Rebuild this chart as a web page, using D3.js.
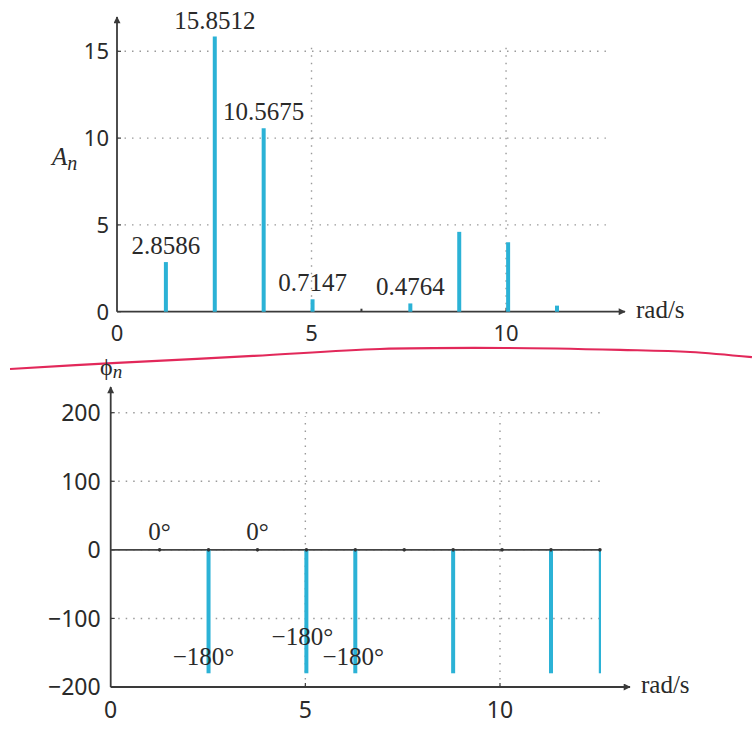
<!DOCTYPE html>
<html>
<head>
<meta charset="utf-8">
<script src="https://cdn.jsdelivr.net/npm/d3@7"></script>
<style>
  body { margin: 0; background: #fff; }
  svg { display: block; }
  .tick-label { font-family: "Noto Sans", sans-serif; fill: #2a2a2a; }
  .serif { font-family: "Liberation Serif", "Times New Roman", serif; fill: #2a2a2a; }
</style>
</head>
<body>
<svg id="chart" width="752" height="730"></svg>
<script>
// harmonic frequencies (rad/s)
const freqs = [1.2566, 2.5133, 3.7699, 5.0265, 6.2832, 7.5398, 8.7965, 10.0531, 11.3097, 12.5664];
// amplitude spectrum A_n (n = 1..9)
const ampValues = [2.8586, 15.8512, 10.5675, 0.7147, 0, 0.4764, 4.6, 4.0, 0.35];
const ampLabels = ["2.8586", "15.8512", "10.5675", "0.7147", "", "0.4764", "", "", ""];
// phase spectrum phi_n (degrees, n = 1..10)
const phaseValues = [0, -180, 0, -180, -180, 0, -180, 0, -180, -180];
const phaseLabels = ["0°", "−180°", "0°", "−180°", "−180°", "", "", "", "", ""];
const ampTicks = [0, 5, 10, 15];
const phaseTicks = [-200, -100, 0, 100, 200];
const xTicks = [0, 5, 10];
// hand-drawn red separator, in amplitude-chart units
const separator = [[-2.75, -3.3], [0, -2.95], [3.5, -2.55], [6.76, -2.15], [9.97, -2.09], [12.93, -2.2], [14.73, -2.32], [16.32, -2.62]];

const svg = d3.select("#chart");
const stemColor = "#2bb2d6";
const axisColor = "#3a3a3a";

const defs = svg.append("defs");
defs.append("marker")
  .attr("id", "arrow")
  .attr("viewBox", "0 0 10 10")
  .attr("refX", 9).attr("refY", 5)
  .attr("markerWidth", 11).attr("markerHeight", 7)
  .attr("markerUnits", "userSpaceOnUse")
  .attr("orient", "auto")
  .append("path")
  .attr("d", "M0,0 L10,5 L0,10 Z")
  .attr("fill", axisColor);

const fmtMinus = d => d < 0 ? "\u2212" + Math.abs(d) : String(d);

function drawPanel(opts) {
  const { x, y, yTicks, gridTop, xEnd, yEnd, tickFont, yLabelGap, xLabelY } = opts;
  const g = svg.append("g");
  const [x0] = x.range();
  const yBottom = y(y.domain()[0]);

  // dotted grid
  g.selectAll(".hgrid")
    .data(yTicks.filter(t => t > y.domain()[0]))
    .enter().append("line")
    .attr("x1", x0).attr("x2", x(x.domain()[1]))
    .attr("y1", d => y(d)).attr("y2", d => y(d))
    .attr("stroke", "#9a9a9a").attr("stroke-width", 1.4)
    .attr("stroke-dasharray", "1.5,6");
  g.selectAll(".vgrid")
    .data(xTicks.filter(t => t > 0))
    .enter().append("line")
    .attr("x1", d => x(d)).attr("x2", d => x(d))
    .attr("y1", yBottom).attr("y2", y(gridTop))
    .attr("stroke", "#9a9a9a").attr("stroke-width", 1.4)
    .attr("stroke-dasharray", "1.5,6");

  // axes with arrows
  g.append("line")
    .attr("x1", x0).attr("x2", xEnd)
    .attr("y1", yBottom).attr("y2", yBottom)
    .attr("stroke", axisColor).attr("stroke-width", 1.8)
    .attr("marker-end", "url(#arrow)");
  g.append("line")
    .attr("x1", x0).attr("x2", x0)
    .attr("y1", yBottom).attr("y2", yEnd)
    .attr("stroke", axisColor).attr("stroke-width", 1.8)
    .attr("marker-end", "url(#arrow)");

  // small inward ticks
  g.selectAll(".xt").data(xTicks.filter(t => t > 0)).enter().append("line")
    .attr("x1", d => x(d)).attr("x2", d => x(d))
    .attr("y1", yBottom).attr("y2", yBottom - 4)
    .attr("stroke", axisColor).attr("stroke-width", 1.2);
  g.selectAll(".yt").data(yTicks).enter().append("line")
    .attr("x1", x0).attr("x2", x0 + 4)
    .attr("y1", d => y(d)).attr("y2", d => y(d))
    .attr("stroke", axisColor).attr("stroke-width", 1.2);

  // tick labels
  g.selectAll(".ylab").data(yTicks).enter().append("text")
    .attr("class", "tick-label")
    .attr("x", x0 - yLabelGap).attr("y", d => y(d))
    .attr("dy", "0.36em")
    .attr("text-anchor", "end")
    .style("font-size", tickFont + "px")
    .text(fmtMinus);
  g.selectAll(".xlab").data(xTicks).enter().append("text")
    .attr("class", "tick-label")
    .attr("x", d => x(d)).attr("y", xLabelY)
    .attr("text-anchor", "middle")
    .style("font-size", tickFont + "px")
    .text(d => d);

  // unit label
  g.append("text")
    .attr("class", "serif")
    .attr("x", xEnd + 11).attr("y", yBottom + 6)
    .style("font-size", "25px")
    .text("rad/s");
  return g;
}

// ---------- amplitude spectrum ----------
const xA = d3.scaleLinear().domain([0, 4 * Math.PI]).range([117, 605.9]);
const yA = d3.scaleLinear().domain([0, 15]).range([311.7, 51.3]);
const gA = drawPanel({ x: xA, y: yA, yTicks: ampTicks, gridTop: 15.5, xEnd: 625, yEnd: 17,
  tickFont: 22, yLabelGap: 8, xLabelY: 341 });

const ampData = ampValues.map((v, i) => ({ f: freqs[i], v, label: ampLabels[i] }));
gA.selectAll(".stem").data(ampData.filter(d => d.v > 0)).enter().append("line")
  .attr("x1", d => xA(d.f)).attr("x2", d => xA(d.f))
  .attr("y1", yA(0)).attr("y2", d => yA(d.v))
  .attr("stroke", stemColor).attr("stroke-width", 4);
gA.selectAll(".base").data(ampData.filter(d => d.v === 0)).enter().append("line")
  .attr("x1", d => xA(d.f)).attr("x2", d => xA(d.f))
  .attr("y1", yA(0)).attr("y2", yA(0) - 3)
  .attr("stroke", axisColor).attr("stroke-width", 2);
gA.selectAll(".vlab").data(ampData.filter(d => d.label)).enter().append("text")
  .attr("class", "serif")
  .attr("x", d => xA(d.f)).attr("y", d => yA(d.v) - 8)
  .attr("text-anchor", "middle")
  .style("font-size", "25px")
  .text(d => d.label);

const aTitle = gA.append("text").attr("class", "serif")
  .attr("x", 52).attr("y", 165)
  .style("font-size", "25px").style("font-style", "italic");
aTitle.append("tspan").text("A");
aTitle.append("tspan").attr("dy", 5).style("font-size", "20px").text("n");

// ---------- red separator ----------
svg.append("path")
  .datum(separator)
  .attr("d", d3.line().x(d => xA(d[0])).y(d => yA(d[1])).curve(d3.curveCatmullRom))
  .attr("fill", "none")
  .attr("stroke", "#e2285a")
  .attr("stroke-width", 2.2);

// ---------- phase spectrum ----------
const xP = d3.scaleLinear().domain([0, 4 * Math.PI]).range([110.7, 599.9]);
const yP = d3.scaleLinear().domain([-200, 200]).range([687, 412.7]);
const gP = drawPanel({ x: xP, y: yP, yTicks: phaseTicks, gridTop: 195, xEnd: 630, yEnd: 387,
  tickFont: 23, yLabelGap: 10, xLabelY: 718 });

// zero line of the stem plot
gP.append("line")
  .attr("x1", xP(0)).attr("x2", xP(freqs[freqs.length - 1]))
  .attr("y1", yP(0)).attr("y2", yP(0))
  .attr("stroke", "#444").attr("stroke-width", 1.8);

const phaseData = phaseValues.map((v, i) => ({ f: freqs[i], v, label: phaseLabels[i], i }));
gP.selectAll(".stem").data(phaseData.filter(d => d.v !== 0)).enter().append("line")
  .attr("x1", d => xP(d.f)).attr("x2", d => xP(d.f))
  .attr("y1", yP(0)).attr("y2", d => yP(d.v))
  .attr("stroke", stemColor)
  .attr("stroke-width", d => d.i === phaseValues.length - 1 ? 2.2 : 4);
gP.selectAll(".dot").data(phaseData).enter().append("circle")
  .attr("cx", d => xP(d.f)).attr("cy", yP(0)).attr("r", 1.8)
  .attr("fill", "#333");

// label offsets: [dx, rise above stem tip]
const phaseLabelShift = { 0: [0, 10], 1: [-5, 8], 2: [0, 10], 3: [-4, 28], 4: [-2, 8] };
gP.selectAll(".plab").data(phaseData.filter(d => d.label)).enter().append("text")
  .attr("class", "serif")
  .attr("x", d => xP(d.f) + phaseLabelShift[d.i][0])
  .attr("y", d => yP(d.v) - phaseLabelShift[d.i][1])
  .attr("text-anchor", "middle")
  .style("font-size", "25px")
  .text(d => d.label);

const pTitle = gP.append("text").attr("class", "serif")
  .attr("x", 100).attr("y", 375)
  .style("font-size", "24px");
pTitle.append("tspan").text("\u03D5");
pTitle.append("tspan").attr("dy", 3).style("font-size", "19px").style("font-style", "italic").text("n");
</script>
</body>
</html>
